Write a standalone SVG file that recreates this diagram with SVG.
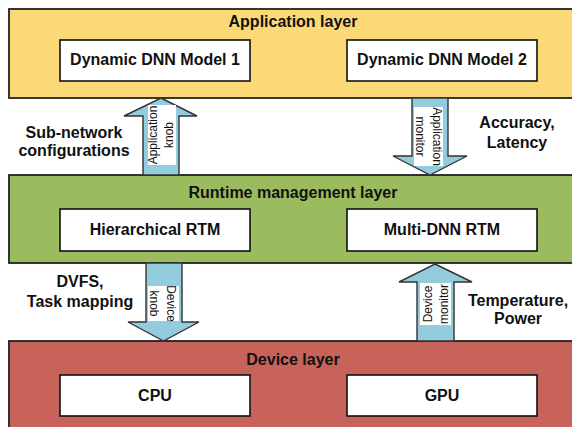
<svg xmlns="http://www.w3.org/2000/svg" width="572" height="427" viewBox="0 0 572 427">
<style>
.layer{stroke:#222;stroke-width:1.8}
.box{fill:#fff;stroke:#111;stroke-width:1.6}
.t{font-family:"Liberation Sans",Arial,sans-serif;font-weight:bold;font-size:16px;fill:#111;text-anchor:middle}
.arrow{fill:#93CDDD;stroke:#333;stroke-width:1.4}
.lab{fill:#fff}
.s{font-family:"Liberation Sans",Arial,sans-serif;font-size:12px;fill:#111;text-anchor:middle}
</style>
<rect width="572" height="427" fill="#fff"/>
<g id="application-layer">
<rect class="layer" x="9" y="9" width="580" height="89" fill="#FCD977"/>
<text class="t" x="293" y="27">Application layer</text>
</g>
<g id="dnn-model-1"><rect class="box" x="60" y="40" width="190" height="41"/><text class="t" x="155" y="65">Dynamic DNN Model 1</text></g>
<g id="dnn-model-2"><rect class="box" x="347" y="40" width="190" height="41"/><text class="t" x="442" y="65">Dynamic DNN Model 2</text></g>
<g id="runtime-layer">
<rect class="layer" x="9" y="175" width="580" height="88" fill="#9BBB5F"/>
<text class="t" x="293" y="198">Runtime management layer</text>
</g>
<g id="hierarchical-rtm"><rect class="box" x="60" y="209" width="190" height="42"/><text class="t" x="155" y="235">Hierarchical RTM</text></g>
<g id="multi-dnn-rtm"><rect class="box" x="347" y="209" width="190" height="42"/><text class="t" x="442" y="235">Multi-DNN RTM</text></g>
<g id="device-layer">
<rect class="layer" x="9" y="341" width="580" height="100" fill="#C8635B"/>
<text class="t" x="293" y="365">Device layer</text>
</g>
<g id="cpu"><rect class="box" x="60" y="375" width="190" height="41"/><text class="t" x="155" y="401">CPU</text></g>
<g id="gpu"><rect class="box" x="347" y="375" width="190" height="41"/><text class="t" x="442" y="401">GPU</text></g>
<g id="connectors">
<g id="application-knob">
<polygon class="arrow" points="161,98 197,116 179,116 179,175 143,175 143,116 124,116"/>
<rect class="lab" x="148" y="105" width="28" height="60"/>
<text class="s" transform="translate(157,135) rotate(-90)">Application</text>
<text class="s" transform="translate(173,135) rotate(-90)">knob</text>
</g>
<g id="application-monitor">
<polygon class="arrow" points="412,98 448,98 448,156 467,156 430,175 393,156 412,156"/>
<rect class="lab" x="414" y="107" width="29" height="59"/>
<text class="s" transform="translate(432.5,136.5) rotate(90)">Application</text>
<text class="s" transform="translate(416,136.5) rotate(90)">monitor</text>
</g>
<g id="device-knob">
<polygon class="arrow" points="146,263 182,263 182,322 199,322 163.5,341 128,322 146,322"/>
<rect class="lab" x="148" y="286" width="31" height="35"/>
<text class="s" transform="translate(166.5,303.5) rotate(90)">Device</text>
<text class="s" transform="translate(150,303.5) rotate(90)">knob</text>
</g>
<g id="device-monitor">
<polygon class="arrow" points="435,264 472,282 454,282 454,341 417,341 417,282 399,282"/>
<rect class="lab" x="420" y="283" width="31" height="42"/>
<text class="s" transform="translate(432,304) rotate(-90)">Device</text>
<text class="s" transform="translate(448,304) rotate(-90)">monitor</text>
</g>
<text class="t" x="74" y="138">Sub-network</text>
<text class="t" x="74" y="156">configurations</text>
<text class="t" x="517" y="128">Accuracy,</text>
<text class="t" x="517" y="148">Latency</text>
<text class="t" x="80" y="287">DVFS,</text>
<text class="t" x="80" y="307">Task mapping</text>
<text class="t" x="518" y="306">Temperature,</text>
<text class="t" x="518" y="324">Power</text>
</g>
</svg>
